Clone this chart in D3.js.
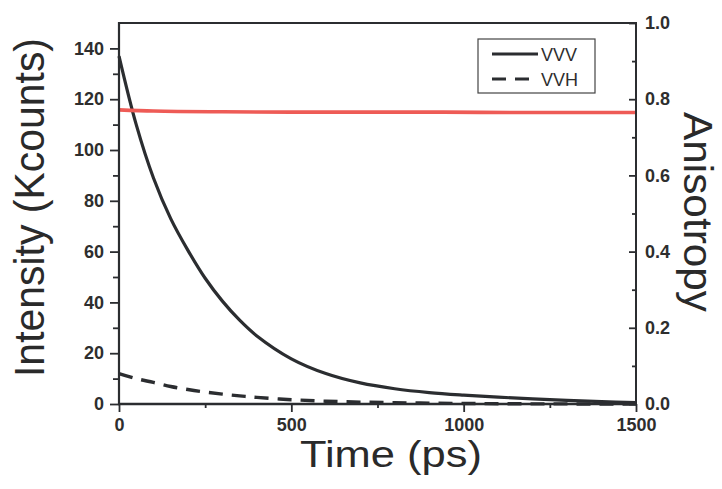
<!DOCTYPE html>
<html><head><meta charset="utf-8">
<script src="https://cdn.jsdelivr.net/npm/d3@7"></script>
<style>
html,body{margin:0;padding:0;background:#fff;}
svg{display:block;font-family:"Liberation Sans",Arial,sans-serif;}
</style></head>
<body><svg id="c" width="722" height="489"></svg>
<script>
// ---- data ----
const time = [0,50,100,150,200,250,300,350,400,500,600,700,800,900,1000,1100,1200,1300,1400,1500];
const vvv  = [137,110,89,73,60.5,49.5,40.5,33,26.8,17.8,12,8.3,6,4.5,3.5,2.7,2,1.4,0.9,0.6];
const vvh  = [12,10,8.5,6.9,5.7,4.7,3.9,3.2,2.6,1.7,1.1,0.75,0.5,0.35,0.22,0.12,0.06,0.03,0.02,0.01];
const anisoTime = [0,100,300,600,900,1200,1500];
const aniso     = [0.772,0.769,0.767,0.766,0.766,0.765,0.765];
const xTicks = [0,500,1000,1500];
const yLeftTicks = [0,20,40,60,80,100,120,140];
const yRightTicks = [0,0.2,0.4,0.6,0.8,1.0];
const legendLabels = ["VVV","VVH"];

const svg = d3.select("#c");
const L=119, R=636, T=23, B=404;
const x = d3.scaleLinear().domain([0,1500]).range([L,R]);
const yL = d3.scaleLinear().domain([0,150]).range([B,T]);
const yR = d3.scaleLinear().domain([0,1.0]).range([B,T]);
const ink = "#2b2d30";

// curves
const lineL = d3.line().x(d=>x(d[0])).y(d=>yL(d[1])).curve(d3.curveCatmullRom.alpha(0.5));
const lineR = d3.line().x(d=>x(d[0])).y(d=>yR(d[1])).curve(d3.curveMonotoneX);

svg.append("path").datum(time.map((t,i)=>[t,vvh[i]])).attr("d",lineL)
  .attr("fill","none").attr("stroke",ink).attr("stroke-width",3.4)
  .attr("stroke-dasharray","14,9");
svg.append("path").datum(time.map((t,i)=>[t,vvv[i]])).attr("d",lineL)
  .attr("fill","none").attr("stroke",ink).attr("stroke-width",3.2);
svg.append("path").datum(anisoTime.map((t,i)=>[t,aniso[i]])).attr("d",lineR)
  .attr("fill","none").attr("stroke","#ee5b56").attr("stroke-width",3.6);

// axes
function style(g){
  g.select(".domain").remove();
  g.selectAll("line").attr("stroke",ink).attr("stroke-width",1.8);
  g.selectAll("text").attr("fill","#2e2e2e").attr("font-size",18).attr("font-weight","bold");
}
// bottom
const gB = svg.append("g").attr("transform",`translate(0,${B})`);
gB.call(d3.axisBottom(x).tickValues(d3.range(250,1500,500)).tickSize(4).tickFormat(""));
style(gB);
const gB2 = svg.append("g").attr("transform",`translate(0,${B})`);
gB2.call(d3.axisBottom(x).tickValues(xTicks).tickSize(8).tickPadding(6).tickFormat(d3.format("d")));
style(gB2);
gB2.selectAll("text").attr("dy","0.71em");
// left
const gL = svg.append("g").attr("transform",`translate(${L},0)`);
gL.call(d3.axisLeft(yL).tickValues(d3.range(10,150,20)).tickSize(6).tickFormat(""));
style(gL);
const gL2 = svg.append("g").attr("transform",`translate(${L},0)`);
gL2.call(d3.axisLeft(yL).tickValues(yLeftTicks).tickSize(9).tickPadding(6).tickFormat(d3.format("d")));
style(gL2);
// right (ticks inward, labels outside)
const gR = svg.append("g").attr("transform",`translate(${R},0)`);
gR.call(d3.axisRight(yR).tickValues(d3.range(0.1,1.0,0.2)).tickSize(-4).tickFormat(""));
style(gR);
const gR2 = svg.append("g").attr("transform",`translate(${R},0)`);
gR2.call(d3.axisRight(yR).tickValues(yRightTicks).tickSize(-7).tickPadding(9).tickFormat(d3.format(".1f")));
style(gR2);

// frame lines
svg.append("line").attr("x1",L).attr("x2",R).attr("y1",T).attr("y2",T).attr("stroke",ink).attr("stroke-width",1.8);
svg.append("line").attr("x1",L).attr("x2",L).attr("y1",T-1).attr("y2",B+1).attr("stroke",ink).attr("stroke-width",2.2);
svg.append("line").attr("x1",R).attr("x2",R).attr("y1",T-1).attr("y2",B+1).attr("stroke",ink).attr("stroke-width",2);
svg.append("line").attr("x1",L-1).attr("x2",R+1).attr("y1",B).attr("y2",B).attr("stroke",ink).attr("stroke-width",2.4);

// titles
svg.append("text").attr("x",300).attr("y",467).attr("font-size",37.5)
  .attr("textLength",182).attr("lengthAdjust","spacingAndGlyphs")
  .attr("fill","#2a2a2a").text("Time (ps)");
svg.append("text").attr("transform","translate(44,377) rotate(-90)").attr("font-size",43)
  .attr("textLength",339).attr("lengthAdjust","spacingAndGlyphs")
  .attr("fill","#2a2a2a").text("Intensity (Kcounts)");
svg.append("text").attr("transform","translate(684,112) rotate(90)").attr("font-size",40)
  .attr("textLength",200).attr("lengthAdjust","spacingAndGlyphs")
  .attr("fill","#2a2a2a").text("Anisotropy");

// legend
const lg = svg.append("g");
lg.append("rect").attr("x",478).attr("y",39).attr("width",117).attr("height",54)
  .attr("fill","none").attr("stroke","#444").attr("stroke-width",1.2);
const dashes = [null,"14,9"];
legendLabels.forEach((lab,i)=>{
  const yy = 54 + i*25;
  lg.append("line").attr("x1",492).attr("x2",538).attr("y1",yy).attr("y2",yy)
    .attr("stroke",ink).attr("stroke-width",3.2).attr("stroke-dasharray",dashes[i]);
  lg.append("text").attr("x",541).attr("y",yy+6.5).attr("font-size",18)
    .attr("fill","#2e2e2e").text(lab);
});
</script></body></html>
